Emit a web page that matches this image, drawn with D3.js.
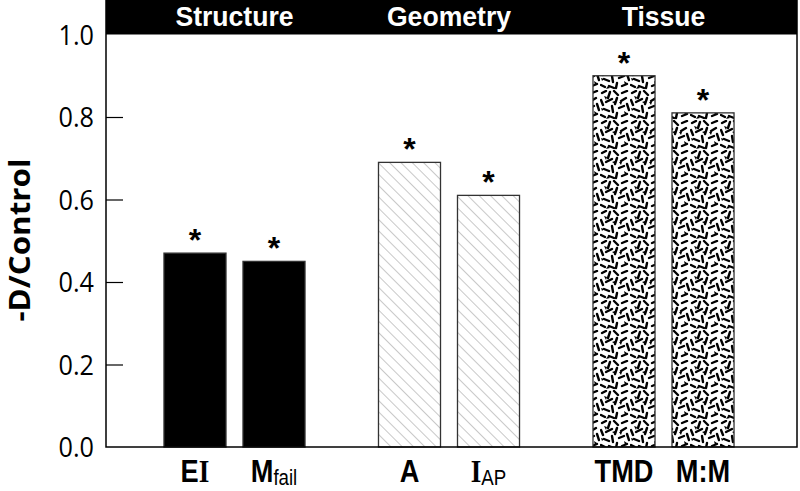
<!DOCTYPE html>
<html>
<head>
<meta charset="utf-8">
<script src="https://cdn.jsdelivr.net/npm/d3@7"></script>
<style>
  body { margin: 0; background: #fff; }
  svg { display: block; }
</style>
</head>
<body>
<svg width="800" height="491"></svg>
<script>
// data
var groups = ["Structure", "Geometry", "Tissue"];
var bars = ["EI", "Mfail", "A", "IAP", "TMD", "M:M"];
var barGroup = ["Structure", "Structure", "Geometry", "Geometry", "Tissue", "Tissue"];
var values = [0.47, 0.45, 0.69, 0.61, 0.90, 0.81];
var yTicks = [0.0, 0.2, 0.4, 0.6, 0.8, 1.0];

var svg = d3.select("svg");

var plotLeft = 106, plotRight = 797, plotTop = 0, plotBottom = 447;

var y = d3.scaleLinear().domain([0, 1]).range([plotBottom, 34.5]);

var x0 = d3.scaleBand()
    .domain(groups)
    .range([plotLeft - 3, plotRight - 2])
    .paddingInner(0)
    .paddingOuter(0.113);

var x1 = d3.scaleBand()
    .domain([0, 1])
    .range([0, x0.bandwidth()])
    .paddingInner(0.215)
    .paddingOuter(0.465);

var defs = svg.append("defs");

// diagonal hatch
var hatch = defs.append("pattern")
    .attr("id", "hatch")
    .attr("patternUnits", "userSpaceOnUse")
    .attr("width", 8).attr("height", 8)
    .attr("patternTransform", "rotate(-45)");
hatch.append("rect").attr("width", 8).attr("height", 8).attr("fill", "#fff");
hatch.append("line")
    .attr("x1", 0).attr("y1", 0).attr("x2", 0).attr("y2", 8)
    .attr("stroke", "#9a9a9a").attr("stroke-width", 1.1);

// speckle texture (fixed hand-drawn tile)
var speck = defs.append("pattern")
    .attr("id", "speck")
    .attr("patternUnits", "userSpaceOnUse")
    .attr("width", 30).attr("height", 30);
speck.append("rect").attr("width", 30).attr("height", 30).attr("fill", "#fff");
var strokes = [
    "M2,3 L6,1", "M10,2 L8,8", "M14,1 L18,5", "M22,3 L27,1",
    "M1,10 L3,15", "M6,12 L12,9", "M17,8 L15,14", "M21,11 L26,8",
    "M4,19 L9,21", "M12,16 L13,22", "M19,18 L24,16", "M27,14 L29,20",
    "M1,25 L5,27", "M9,26 L14,28", "M17,23 L16,28", "M22,26 L27,24"
];
speck.selectAll("path.s")
    .data(strokes)
    .enter().append("path")
    .attr("class", "s")
    .attr("d", function (d) { return d; })
    .attr("stroke", "#000")
    .attr("stroke-width", 2.4)
    .attr("stroke-linecap", "round")
    .attr("fill", "none");
var blobs = [
    "M4,6 l3,1 l-1,3 z", "M12,12 l3,-1 l0,3 z", "M24,21 l3,2 l-2,2 z",
    "M6,29 l2,-3 l2,2 z", "M19,12 l3,0 l-1,3 z", "M1,18 l3,1 l-2,2 z"
];
speck.selectAll("path.b")
    .data(blobs)
    .enter().append("path")
    .attr("class", "b")
    .attr("d", function (d) { return d; })
    .attr("fill", "#000");

var fills = { Structure: "#000", Geometry: "url(#hatch)", Tissue: "url(#speck)" };

// header band
svg.append("rect")
    .attr("x", plotLeft).attr("y", plotTop)
    .attr("width", plotRight - plotLeft).attr("height", y(1) - plotTop)
    .attr("fill", "#000");

var sans = "'Liberation Sans', Arial, sans-serif";

svg.selectAll("text.group")
    .data(groups)
    .enter().append("text")
    .attr("class", "group")
    .attr("transform", function (d) {
        return "translate(" + (x0(d) + x0.bandwidth() / 2) + ",26) scale(0.95,1)";
    })
    .attr("text-anchor", "middle")
    .attr("fill", "#fff")
    .style("font-family", sans)
    .style("font-weight", "bold")
    .style("font-size", "28px")
    .text(function (d) { return d; });

// bars
var slot = [0, 1, 0, 1, 0, 1];
function barX(i) { return x0(barGroup[i]) + x1(slot[i]); }

svg.selectAll("rect.bar")
    .data(values)
    .enter().append("rect")
    .attr("class", "bar")
    .attr("x", function (d, i) { return barX(i); })
    .attr("y", function (d) { return y(d); })
    .attr("width", x1.bandwidth())
    .attr("height", function (d) { return y(0) - y(d); })
    .attr("fill", function (d, i) { return fills[barGroup[i]]; })
    .attr("stroke", "#333")
    .attr("stroke-width", 1.3);

// stars
svg.selectAll("text.star")
    .data(values)
    .enter().append("text")
    .attr("class", "star")
    .attr("x", function (d, i) { return barX(i) + x1.bandwidth() / 2; })
    .attr("y", function (d) { return y(d) - 2; })
    .attr("text-anchor", "middle")
    .style("font-family", sans)
    .style("font-weight", "bold")
    .style("font-size", "32px")
    .text("*");

// frame
svg.append("rect")
    .attr("x", plotLeft).attr("y", plotTop)
    .attr("width", plotRight - plotLeft).attr("height", plotBottom - plotTop)
    .attr("fill", "none")
    .attr("stroke", "#000")
    .attr("stroke-width", 1.5);

// y axis
var yAxis = d3.axisRight(y)
    .tickValues(yTicks.filter(function (t) { return t > 0 && t < 1; }))
    .tickSize(17)
    .tickFormat("");
svg.append("g")
    .attr("transform", "translate(" + plotLeft + ",0)")
    .call(yAxis)
    .call(function (g) { g.select(".domain").remove(); })
    .selectAll("line").attr("stroke", "#000").attr("stroke-width", 1.2);

svg.selectAll("text.ytick")
    .data(yTicks)
    .enter().append("text")
    .attr("class", "ytick")
    .attr("transform", function (d) { return "translate(94," + (y(d) + 10) + ") scale(0.9,1)"; })
    .attr("text-anchor", "end")
    .style("font-family", "'Open Sans', sans-serif")
    .style("font-size", "28px")
    .text(function (d) { return d.toFixed(1); });

svg.append("text")
    .attr("transform", "translate(30,240) rotate(-90) scale(1.12,1)")
    .attr("text-anchor", "middle")
    .style("font-family", "'Open Sans', sans-serif")
    .style("font-weight", "bold")
    .style("font-size", "28px")
    .text("-D/Control");

// x labels
var xl = svg.selectAll("text.xlab")
    .data(bars)
    .enter().append("text")
    .attr("class", "xlab")
    .attr("transform", function (d, i) {
        return "translate(" + (barX(i) + x1.bandwidth() / 2) + ",482) scale(0.85,1)";
    })
    .attr("text-anchor", "middle")
    .style("font-family", sans)
    .style("font-weight", "bold")
    .style("font-size", "32px");

xl.each(function (d) {
    var t = d3.select(this);
    if (d === "EI") {
        t.append("tspan").text("E");
        t.append("tspan").style("font-family", "'Liberation Serif', serif").text("I");
    } else if (d === "Mfail") {
        t.append("tspan").text("M");
        t.append("tspan").attr("dy", 3).style("font-weight", "normal").style("font-size", "22px").text("fail");
    } else if (d === "IAP") {
        t.append("tspan").style("font-family", "'Liberation Serif', serif").text("I");
        t.append("tspan").attr("dy", 3).style("font-weight", "normal").style("font-size", "22px").text("AP");
    } else {
        t.text(d);
    }
});
</script>
</body>
</html>
